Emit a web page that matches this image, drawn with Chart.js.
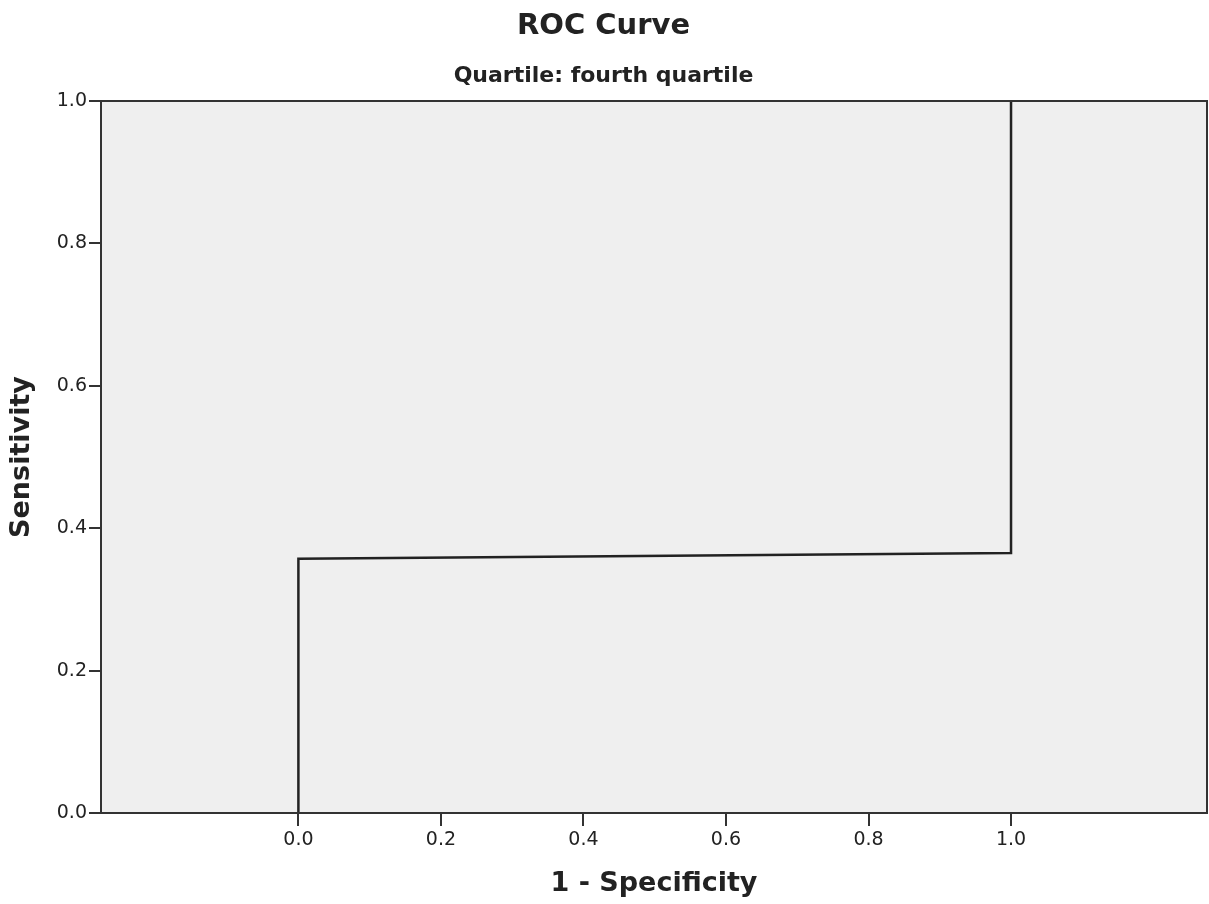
<!DOCTYPE html>
<html>
<head>
<meta charset="utf-8">
<title>ROC Curve</title>
<script src="https://cdn.jsdelivr.net/npm/chart.js@4"></script>
<style>
  html, body { margin: 0; padding: 0; background: #fff; }
  canvas { display: block; }
</style>
</head>
<body>
<canvas id="roc" width="1209" height="904"></canvas>
<script>
(function() {
  'use strict';

  // ROC points (1 - specificity, sensitivity)
  const fprValues = [0, 0, 1, 1];
  const tprValues = [0, 0.357, 0.365, 1];

  // Axis ticks
  const xTickValues = [0, 0.2, 0.4, 0.6, 0.8, 1.0];
  const yTickValues = [0, 0.2, 0.4, 0.6, 0.8, 1.0];

  const chartTitle = 'ROC Curve';
  const chartSubtitle = 'Quartile: fourth quartile';
  const xTitle = '1 - Specificity';
  const yTitle = 'Sensitivity';

  const FONT = "'DejaVu Sans', sans-serif";
  const INK = '#222';

  // Grey plot panel + frame
  const panel = {
    id: 'panel',
    beforeDatasetsDraw(chart) {
      const { ctx, chartArea: a } = chart;
      ctx.save();
      ctx.fillStyle = '#efefef';
      ctx.fillRect(a.left, a.top, a.right - a.left, a.bottom - a.top);
      ctx.restore();
    },
    afterDatasetsDraw(chart) {
      const { ctx, chartArea: a } = chart;
      ctx.save();
      ctx.strokeStyle = '#333';
      ctx.lineWidth = 2;
      ctx.strokeRect(a.left, a.top, a.right - a.left, a.bottom - a.top);
      ctx.restore();
    }
  };

  const points = fprValues.map((x, i) => ({ x, y: tprValues[i] }));

  new Chart(document.getElementById('roc'), {
    type: 'line',
    data: {
      datasets: [{
        data: points,
        borderColor: INK,
        borderWidth: 2.5,
        pointRadius: 0,
        tension: 0,
        fill: false
      }]
    },
    options: {
      responsive: false,
      animation: false,
      events: [],
      layout: { padding: { left: 0, right: 2, top: 0, bottom: 0 } },
      plugins: {
        legend: { display: false },
        tooltip: { enabled: false },
        title: {
          display: true,
          text: chartTitle,
          color: INK,
          font: { family: FONT, size: 29, weight: 'bold', lineHeight: 1.2 },
          padding: { top: 9.5, bottom: 0 }
        },
        subtitle: {
          display: true,
          text: chartSubtitle,
          color: INK,
          font: { family: FONT, size: 22, weight: 'bold', lineHeight: 1.2 },
          padding: { top: 19, bottom: 11.3 }
        }
      },
      scales: {
        x: {
          type: 'linear',
          min: -0.277,
          max: 1.275,
          afterBuildTicks: scale => { scale.ticks = xTickValues.map(v => ({ value: v })); },
          afterFit: scale => { scale.height = 91; },
          border: { display: false },
          grid: { drawOnChartArea: false, drawTicks: true, tickLength: 13, color: '#333', lineWidth: 2 },
          ticks: {
            color: INK,
            padding: 3,
            maxRotation: 0,
            autoSkip: false,
            font: { family: FONT, size: 19 },
            callback: v => Number(v).toFixed(1)
          },
          title: {
            display: true,
            text: xTitle,
            color: INK,
            font: { family: FONT, size: 27, weight: 'bold', lineHeight: 1.2 },
            padding: { top: 0, bottom: 4 }
          }
        },
        y: {
          type: 'linear',
          min: 0,
          max: 1,
          afterBuildTicks: scale => { scale.ticks = yTickValues.map(v => ({ value: v })); },
          afterFit: scale => { scale.width = 101; },
          border: { display: false },
          grid: { drawOnChartArea: false, drawTicks: true, tickLength: 12, color: '#333', lineWidth: 2 },
          ticks: {
            color: INK,
            padding: 2,
            autoSkip: false,
            font: { family: FONT, size: 19 },
            callback: v => Number(v).toFixed(1)
          },
          title: {
            display: true,
            text: yTitle,
            color: INK,
            font: { family: FONT, size: 27, weight: 'bold', lineHeight: 1.2 },
            padding: { top: 6, bottom: 0 }
          }
        }
      }
    },
    plugins: [panel]
  });
})();
</script>
</body>
</html>
